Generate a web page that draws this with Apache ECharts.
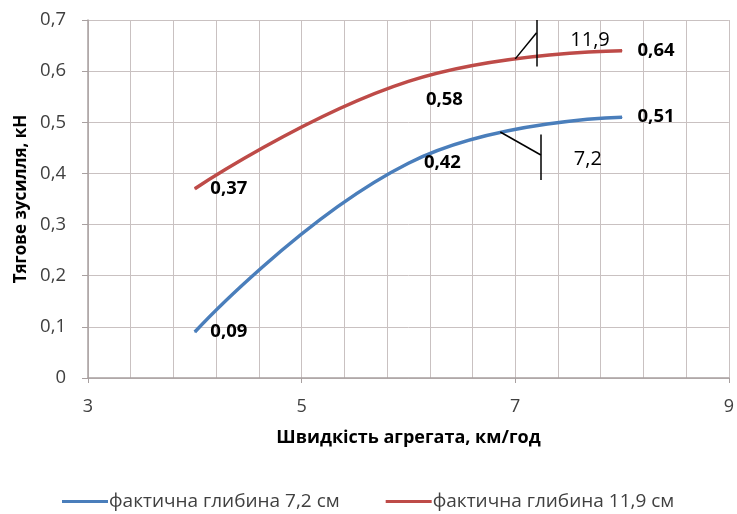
<!DOCTYPE html>
<html>
<head>
<meta charset="utf-8">
<script src="https://cdn.jsdelivr.net/npm/echarts@6/dist/echarts.min.js"></script>
<style>
  html, body { margin: 0; padding: 0; background: #fff; }
  #main { width: 737px; height: 514px; }
</style>
</head>
<body>
<div id="main"></div>
<script>
// speed, km/h
const speeds = [4, 6, 8];
// draft force, kN
const depth72 = [0.09, 0.42, 0.51];
const depth119 = [0.37, 0.58, 0.64];
const seriesNames = ['фактична глибина 7,2 см', 'фактична глибина 11,9 см'];

const chart = echarts.init(document.getElementById('main'));
const font = '"Open Sans", sans-serif';
const comma = v => String(v).replace('.', ',');
const gridColor = '#c9c1c1';

function labelled(ys, offsets) {
	return speeds.map((x, i) => ({
		value: [x, ys[i]],
		label: offsets[i] ? { offset: offsets[i] } : undefined
	}));
}

const blackLine = { color: '#000', width: 1.5, type: 'solid' };
const dataLabel = {
	show: true, position: 'right', distance: 15,
	fontFamily: font, fontSize: 18.5, fontWeight: 'bold', color: '#000',
	formatter: p => comma(p.value[1])
};

chart.setOption({
	backgroundColor: '#fff',
	animation: false,
	grid: { left: 88, right: 6, top: 20, bottom: 136 },
	legend: {
		top: 487,
		left: 57,
		itemWidth: 46,
		itemHeight: 3,
		itemGap: 46,
		icon: 'rect',
		textStyle: { fontFamily: font, fontSize: 19, color: '#404040', padding: [0, 0, 0, -4] },
		data: seriesNames
	},
	xAxis: {
		type: 'value',
		min: 3,
		max: 9,
		interval: 2,
		name: 'Швидкість агрегата, км/год',
		nameLocation: 'middle',
		nameGap: 51,
		nameTextStyle: { fontFamily: font, fontSize: 18, fontWeight: 'bold', color: '#000' },
		axisLine: { lineStyle: { color: '#a8a0a0', width: 1.5 } },
		axisTick: { show: true, length: 5, lineStyle: { color: '#a8a0a0' } },
		axisLabel: { fontFamily: font, fontSize: 18, color: '#404040', margin: 20 },
		splitLine: { show: true, lineStyle: { color: gridColor, width: 1 } },
		minorTick: { show: false, splitNumber: 5 },
		minorSplitLine: { show: true, lineStyle: { color: gridColor, width: 1 } }
	},
	yAxis: {
		type: 'value',
		min: 0,
		max: 0.7,
		interval: 0.1,
		name: 'Тягове зусилля, кН',
		nameLocation: 'middle',
		nameGap: 58,
		nameTextStyle: { fontFamily: font, fontSize: 17, fontWeight: 'bold', color: '#000' },
		axisLine: { show: true, lineStyle: { color: '#a8a0a0', width: 1.5 } },
		axisTick: { show: true, length: 6, lineStyle: { color: '#a8a0a0' } },
		axisLabel: {
			fontFamily: font, fontSize: 18.5, color: '#404040', margin: 22,
			formatter: v => v === 0 ? '0' : comma(v.toFixed(1))
		},
		splitLine: { show: true, lineStyle: { color: gridColor, width: 1 } }
	},
	series: [
		{
			name: seriesNames[0],
			type: 'line',
			smooth: 0.45,
			symbol: 'circle',
			symbolSize: 1,
			color: '#4a7ebb',
			lineStyle: { width: 3.5 },
			data: labelled(depth72, []),
			label: dataLabel,
			markLine: {
				silent: true,
				symbol: 'none',
				label: { show: false },
				lineStyle: blackLine,
				data: [
					[{ coord: [7.24, 0.476] }, { coord: [7.24, 0.387] }],
					[{ coord: [6.86, 0.481] }, { coord: [7.24, 0.436] }]
				]
			},
			markPoint: {
				silent: true,
				symbolSize: 0,
				label: { show: true, fontFamily: font, fontSize: 20, color: '#000', formatter: '{b}' },
				data: [{ name: '7,2', coord: [7.68, 0.427] }]
			}
		},
		{
			name: seriesNames[1],
			type: 'line',
			smooth: 0.45,
			symbol: 'circle',
			symbolSize: 1,
			color: '#be4b48',
			lineStyle: { width: 3.5 },
			data: labelled(depth119, [null, [2, 18], null]),
			label: dataLabel,
			markLine: {
				silent: true,
				symbol: 'none',
				label: { show: false },
				lineStyle: blackLine,
				data: [
					[{ coord: [7.2, 0.7] }, { coord: [7.2, 0.609] }],
					[{ coord: [7.0, 0.624] }, { coord: [7.2, 0.675] }]
				]
			},
			markPoint: {
				silent: true,
				symbolSize: 0,
				label: { show: true, fontFamily: font, fontSize: 20, color: '#000', formatter: '{b}' },
				data: [{ name: '11,9', coord: [7.7, 0.661] }]
			}
		}
	]
});

window.addEventListener('resize', () => {
	chart.resize();
});
</script>
</body>
</html>
